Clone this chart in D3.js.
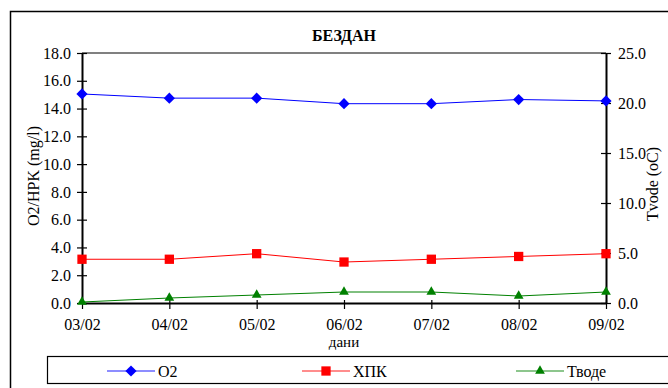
<!DOCTYPE html>
<html>
<head>
<meta charset="utf-8">
<script src="https://cdn.jsdelivr.net/npm/d3@7"></script>
<style>
  body { margin: 0; background: #fff; }
</style>
</head>
<body>
<div class="chart"></div>
<script>
var days = ["03/02", "04/02", "05/02", "06/02", "07/02", "08/02", "09/02"];
var o2 = [15.05, 14.75, 14.75, 14.35, 14.35, 14.65, 14.55];
var hpk = [3.15, 3.15, 3.55, 2.95, 3.15, 3.35, 3.55];
var tvode = [0.1, 0.5, 0.8, 1.1, 1.1, 0.7, 1.1];
var leftTicks = [0, 2, 4, 6, 8, 10, 12, 14, 16, 18];
var rightTicks = [0, 5, 10, 15, 20, 25];

var FONT = "'Liberation Serif'";

var svgWidth = 668;
var svgHeight = 388;
var margin = { top: 53, right: 62, bottom: 85, left: 82 };
var width = svgWidth - margin.left - margin.right;
var height = svgHeight - margin.top - margin.bottom;

var svg = d3.select(".chart")
  .append("svg")
  .attr("width", svgWidth)
  .attr("height", svgHeight)
  .style("font-family", FONT);

// outer frame (runs past the right and bottom edge)
svg.append("rect")
  .attr("x", 10.5).attr("y", 11.5)
  .attr("width", 700).attr("height", 400)
  .attr("fill", "none").attr("stroke", "#000").attr("stroke-width", 1.5);

svg.append("text")
  .attr("x", 344).attr("y", 41)
  .attr("text-anchor", "middle")
  .style("font-family", FONT)
  .style("font-size", "16px").style("font-weight", "bold")
  .text("БЕЗДАН");

var chartGroup = svg.append("g")
  .attr("transform", `translate(${margin.left}, ${margin.top})`);

var xScale = d3.scalePoint().domain(days).range([0, width]);
var yLeft = d3.scaleLinear().domain([0, 18]).range([height, 0]);
var yRight = d3.scaleLinear().domain([0, 25]).range([height, 0]);

// top border of plot area
chartGroup.append("line")
  .attr("x1", 0).attr("x2", width).attr("y1", 0).attr("y2", 0)
  .attr("stroke", "#808080").attr("stroke-width", 2);

var leftAxis = d3.axisLeft(yLeft).tickValues(leftTicks)
  .tickFormat(d3.format(".1f")).tickSizeInner(5).tickSizeOuter(0).tickPadding(6);
var rightAxis = d3.axisRight(yRight).tickValues(rightTicks)
  .tickFormat(d3.format(".1f")).tickSizeInner(5).tickSizeOuter(0).tickPadding(7);
var bottomAxis = d3.axisBottom(xScale)
  .tickSizeInner(6).tickSizeOuter(0).tickPadding(10);

function styleAxis(g) {
  g.attr("font-family", null);
  g.select(".domain").attr("stroke", "#000").attr("stroke-width", 2);
  g.selectAll(".tick line").attr("stroke", "#000").attr("stroke-width", 1.2);
  g.selectAll(".tick text")
    .style("font-family", FONT)
    .style("font-size", "16px").attr("fill", "#000");
}

var gLeft = chartGroup.append("g").call(leftAxis).call(styleAxis);
gLeft.selectAll(".tick line").attr("x2", -5).attr("x1", 5);

var gRight = chartGroup.append("g")
  .attr("transform", `translate(${width}, 0)`)
  .call(rightAxis).call(styleAxis);
gRight.selectAll(".tick line").attr("x1", -5).attr("x2", 5);

var gBottom = chartGroup.append("g")
  .attr("transform", `translate(0, ${height})`)
  .call(bottomAxis).call(styleAxis);
gBottom.selectAll(".tick line").attr("y1", -3).attr("y2", 6);
gBottom.selectAll(".tick text").attr("dy", "0.71em");

// axis titles
svg.append("text")
  .attr("transform", "translate(39, 176) rotate(-90)")
  .attr("text-anchor", "middle")
  .style("font-family", FONT)
  .style("font-size", "16px")
  .text("O2/HPK (mg/l)");

svg.append("text")
  .attr("transform", "translate(658, 184) rotate(-90)")
  .attr("text-anchor", "middle")
  .style("font-family", FONT)
  .style("font-size", "16px")
  .text("Tvode (oC)");

svg.append("text")
  .attr("x", 344).attr("y", 347)
  .attr("text-anchor", "middle")
  .style("font-family", FONT)
  .style("font-size", "15px")
  .text("дани");

var series = [
  { name: "O2", values: o2, scale: yLeft, color: "#0000ff", symbol: d3.symbolDiamond2, size: 80 },
  { name: "ХПК", values: hpk, scale: yLeft, color: "#ff0000", symbol: d3.symbolSquare2, size: 110 },
  { name: "Тводе", values: tvode, scale: yRight, color: "#008000", symbol: d3.symbolTriangle2, size: 68 }
];

series.forEach(function(s) {
  var line = d3.line()
    .x(function(d, i) { return xScale(days[i]); })
    .y(function(d) { return s.scale(d); });

  chartGroup.append("path")
    .datum(s.values)
    .attr("d", line)
    .attr("fill", "none")
    .attr("stroke", s.color)
    .attr("stroke-width", 1);

  chartGroup.selectAll(null)
    .data(s.values)
    .enter()
    .append("path")
    .attr("transform", function(d, i) {
      return `translate(${xScale(days[i])}, ${s.scale(d)})`;
    })
    .attr("d", d3.symbol().type(s.symbol).size(s.size))
    .attr("fill", s.color);
});

// legend
svg.append("rect")
  .attr("x", 47.5).attr("y", 356.5)
  .attr("width", 700).attr("height", 27)
  .attr("fill", "none").attr("stroke", "#000").attr("stroke-width", 1.2);

var legendX = [107, 302, 516];
series.forEach(function(s, i) {
  var g = svg.append("g").attr("transform", `translate(${legendX[i]}, 371)`);
  g.append("line")
    .attr("x1", 0).attr("x2", 48).attr("y1", 0).attr("y2", 0)
    .attr("stroke", s.color).attr("stroke-opacity", 0.6).attr("stroke-width", 1.5);
  g.append("path")
    .attr("transform", "translate(24, 0)")
    .attr("d", d3.symbol().type(s.symbol).size(s.size))
    .attr("fill", s.color);
  g.append("text")
    .attr("x", 51).attr("y", 6)
    .style("font-family", FONT)
    .style("font-size", "16px")
    .text(s.name);
});
</script>
</body>
</html>
